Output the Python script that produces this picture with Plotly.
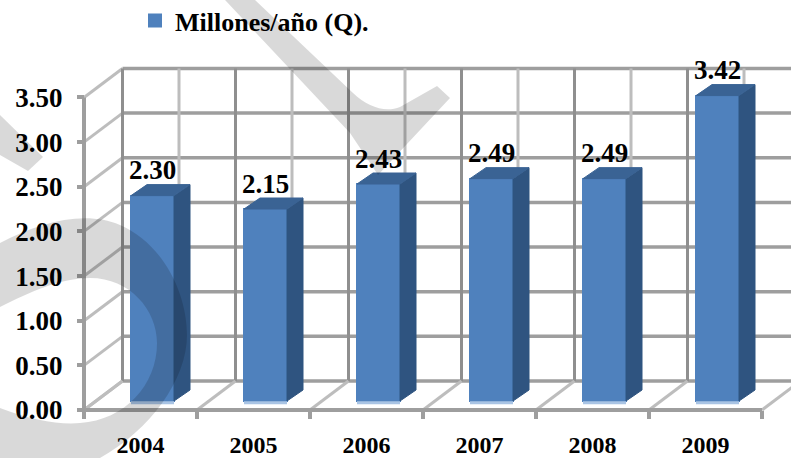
import plotly.graph_objects as go

# ---- data ----
years = ["2004", "2005", "2006", "2007", "2008", "2009"]
values = [2.30, 2.15, 2.43, 2.49, 2.49, 3.42]
value_labels = ["2.30", "2.15", "2.43", "2.49", "2.49", "3.42"]
y_ticks = [0, 0.5, 1, 1.5, 2, 2.5, 3, 3.5]
y_labels = ["0.00", "0.50", "1.00", "1.50", "2.00", "2.50", "3.00", "3.50"]
series_name = "Millones/año (Q)."

# ---- layout constants ----
W, H = 791, 458
X0, CAT = 84, 113          # px of category edge 0, px per category
Y0, UNIT = 410, 89.3       # px of value 0, px per unit
n = len(years)
wall_dx, wall_dy = 38.5 / CAT, 29 / UNIT     # depth of the chart box
bar_dx, bar_dy = 16 / CAT, 11 / UNIT         # depth of a bar
bar_w = 43 / CAT
bar_shift = 12 / CAT
bar_base = 9 / UNIT
FONT = "Liberation Serif"
BLUE, SIDE, TOP, STRIP = "#4f81bd", "#2f5480", "#3a6394", "#a9c4e4"
DARK, MID, LIGHT = "#8f8f8f", "#9e9e9e", "#bdbdbd"

centers = [i + 0.5 + bar_shift for i in range(n)]


def seg(x0, y0, x1, y1, color, width):
    return dict(type="line", xref="x", yref="y", x0=x0, y0=y0, x1=x1, y1=y1,
                layer="below", line=dict(color=color, width=width))


shapes = []
# back wall
for t in y_ticks:
    shapes.append(seg(wall_dx, t + wall_dy, n + wall_dx, t + wall_dy, MID, 3.5))
    shapes.append(seg(0, t, wall_dx, t + wall_dy, LIGHT, 3))
for i in range(n + 1):
    shapes.append(seg(i + wall_dx, wall_dy, i + wall_dx, 3.5 + wall_dy, DARK, 3))
    shapes.append(seg(i, 0, i + wall_dx, wall_dy, LIGHT, 3))
for i in range(n):
    shapes.append(seg(i + 0.5 + wall_dx, wall_dy, i + 0.5 + wall_dx, 3.5 + wall_dy, LIGHT, 3))
shapes.append(seg(0, 0, 0, 3.5, MID, 4))


# watermark, drawn in pixels of the page
def P(x, y):
    return f"{x / W:.4f} {1 - y / H:.4f}"


def path(cmds):
    out = []
    for c in cmds:
        out.append(c[0] + " ".join(P(c[k], c[k + 1]) for k in range(1, len(c), 2)))
    return " ".join(out) + " Z"


wm = [
    [("M", 225, 0), ("L", 255, 0), ("L", 353, 93), ("C", 368, 107, 385, 113, 400, 107),
     ("L", 437, 86), ("L", 450, 98), ("L", 378, 175), ("L", 350, 133)],
    [("M", 0, 115), ("L", 43, 157), ("L", 28, 171), ("L", 0, 155)],
    [("M", 0, 243), ("C", 40, 222, 85, 210, 120, 225), ("C", 165, 245, 187, 295, 187, 335),
     ("C", 187, 380, 150, 430, 100, 458), ("L", 0, 458), ("L", 0, 408),
     ("C", 30, 420, 60, 425, 80, 423), ("C", 125, 420, 157, 385, 157, 343),
     ("C", 157, 310, 130, 278, 90, 278), ("C", 60, 278, 30, 292, 0, 307)],
]
for w in wm:
    shapes.append(dict(type="path", xref="paper", yref="paper", path=path(w),
                       fillcolor="rgba(0,0,0,0.15)", line=dict(width=0), layer="above"))

fig = go.Figure()

fig.add_trace(go.Bar(x=centers, y=values, base=bar_base, width=bar_w, name=series_name,
                     marker=dict(color=BLUE, line=dict(color=BLUE, width=2)),
                     showlegend=True, hoverinfo="skip"))

for cx, v in zip(centers, values):
    xl, xr = cx - bar_w / 2, cx + bar_w / 2
    top = bar_base + v
    fig.add_trace(go.Scatter(x=[xr, xr + bar_dx, xr + bar_dx, xr, xr],
                             y=[bar_base, bar_base + bar_dy, top + bar_dy, top, bar_base],
                             mode="lines", fill="toself", fillcolor=SIDE,
                             line=dict(color=SIDE, width=1), showlegend=False, hoverinfo="skip"))
    fig.add_trace(go.Scatter(x=[xl, xr, xr + bar_dx, xl + bar_dx, xl],
                             y=[top, top, top + bar_dy, top + bar_dy, top],
                             mode="lines", fill="toself", fillcolor=TOP,
                             line=dict(color=TOP, width=1), showlegend=False, hoverinfo="skip"))
    fig.add_trace(go.Scatter(x=[xl, xr], y=[bar_base - 0.02, bar_base - 0.02], mode="lines",
                             line=dict(color=STRIP, width=3), showlegend=False, hoverinfo="skip"))

# value labels
fig.add_trace(go.Scatter(x=centers, y=[v + 0.21 for v in values], mode="text", text=value_labels,
                         textposition="top center", cliponaxis=False,
                         textfont=dict(family=FONT, size=27, color="black", weight="bold"),
                         showlegend=False, hoverinfo="skip"))

# front floor line with category ticks (second x axis)
fig.add_trace(go.Scatter(x=[0, n], y=[0, 0], mode="lines", xaxis="x2", yaxis="y",
                         line=dict(color=MID, width=4), showlegend=False, hoverinfo="skip"))

xr_ = [-X0 / CAT, (W - X0) / CAT]
yr_ = [(Y0 - H) / UNIT, Y0 / UNIT]
fig.update_layout(
    width=W, height=H, margin=dict(l=0, r=0, t=0, b=0, autoexpand=False),
    paper_bgcolor="white", plot_bgcolor="white", bargap=0,
    shapes=shapes,
    font=dict(family=FONT, color="black"),
    legend=dict(x=135 / W, y=1 + 3 / H, xanchor="left", yanchor="top",
                bgcolor="rgba(0,0,0,0)", font=dict(family=FONT, size=26, weight="bold")),
    xaxis=dict(range=xr_, domain=[0, 1], anchor="free", position=1 - 428 / H,
               tickmode="array", tickvals=[i + 0.5 for i in range(n)], ticktext=years,
               ticks="", showgrid=False, zeroline=False, showline=False,
               tickfont=dict(family=FONT, size=24, weight="bold", color="black")),
    xaxis2=dict(range=xr_, domain=[0, 1], anchor="free", position=1 - Y0 / H, overlaying="x",
                tickmode="array", tickvals=list(range(n + 1)), showticklabels=False,
                ticks="outside", ticklen=8, tickwidth=4, tickcolor=MID,
                showgrid=False, zeroline=False, showline=False),
    yaxis=dict(range=yr_, domain=[0, 1], anchor="free", position=X0 / W,
               tickmode="array", tickvals=y_ticks, ticktext=y_labels,
               ticks="outside", ticklen=7, tickwidth=4, tickcolor=MID, ticklabelstandoff=9,
               showgrid=False, zeroline=False, showline=False,
               tickfont=dict(family=FONT, size=27, weight="bold", color="black")),
)

fig.write_html("out.html", config=dict(displayModeBar=False),
               post_script="document.body.style.margin='0';document.body.style.overflow='hidden';")
